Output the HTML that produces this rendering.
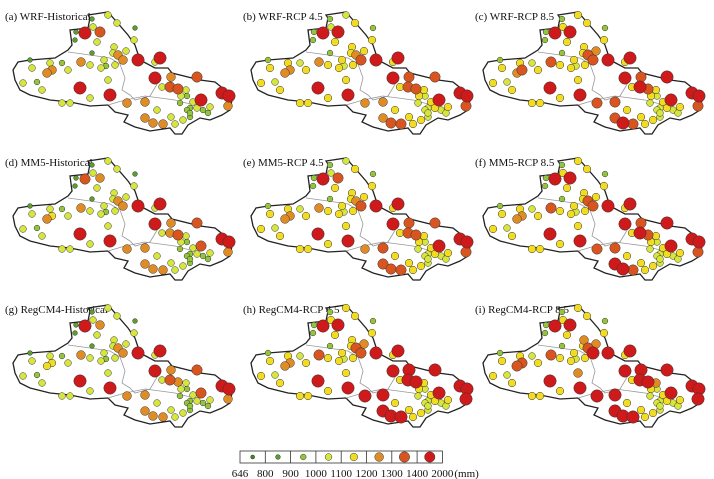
<!DOCTYPE html>
<html><head><meta charset="utf-8"><style>
body{margin:0;background:#fff;}
svg{display:block;font-family:"Liberation Serif",serif;}
</style></head><body>
<svg id="fig" width="714" height="479"></svg>
<script>
const panelTitles=["(a) WRF-Historical","(b) WRF-RCP 4.5","(c) WRF-RCP 8.5","(d) MM5-Historical","(e) MM5-RCP 4.5","(f) MM5-RCP 8.5","(g) RegCM4-Historical","(h) RegCM4-RCP 4.5","(i) RegCM4-RCP 8.5"];
const legendLabels=["646","800","900","1000","1100","1200","1300","1400","2000"];
const stationX=[92,108,117,85,100,76,93,75,97,135,134,114,126,92,113,118,123,138,160,155,30,50,62,81,90,104,106,101,52,47,32,68,115,108,155,171,197,23,37,42,80,110,162,170,178,186,181,187,193,201,222,229,228,62,70,90,127,145,157,180,190,197,203,210,187,190,208,145,153,163,171,175,183,190];
const stationY=[19,15,23,33,32,32,27,40,42,28,40,47,51,53,53,55,60,60,58,62,60,63,63,62,65,60,66,68,70,73,68,70,65,80,78,77,77,83,82,90,88,95,87,87,89,90,96,96,102,100,93,96,106,103,103,98,103,102,110,103,108,108,110,107,110,117,113,118,123,124,117,124,120,113];
const cls=[
[1,3,3,7,6,1,3,1,3,1,3,3,3,1,3,5,5,7,7,3,1,3,2,5,3,3,2,3,5,5,3,3,3,3,7,5,6,3,2,3,7,7,3,6,6,3,3,2,3,7,7,7,5,3,3,3,5,5,3,2,2,3,2,3,2,2,2,5,5,5,3,3,3,2],
[2,3,4,7,7,2,3,2,4,2,4,4,4,2,4,5,6,7,7,4,2,4,3,5,4,4,3,4,5,5,4,4,4,4,7,6,6,4,3,4,7,7,4,6,6,4,4,3,4,7,7,7,6,4,4,4,5,5,4,3,3,4,3,4,3,3,3,5,6,6,4,4,4,3],
[2,4,4,7,7,2,4,2,4,2,4,4,5,2,4,6,6,7,7,4,2,4,3,6,4,4,3,4,6,5,4,4,4,4,7,6,7,4,3,4,7,7,4,7,6,4,4,3,4,7,7,7,6,4,4,4,6,6,4,3,3,4,3,4,3,3,3,6,7,6,4,4,4,3],
[1,3,3,6,5,1,3,1,3,1,3,3,3,1,3,5,5,7,7,3,1,3,2,5,3,3,2,3,4,5,3,3,3,3,7,5,6,3,2,3,7,7,3,5,6,3,3,2,3,6,7,7,5,3,3,3,5,5,3,2,2,3,2,3,2,2,2,5,5,5,3,3,3,2],
[2,3,4,7,6,2,3,2,4,2,4,4,4,2,4,5,6,7,7,4,2,4,3,5,4,4,3,4,5,5,4,4,4,4,7,6,6,4,3,4,7,7,4,6,6,4,4,3,4,7,7,7,6,4,4,4,5,6,4,3,3,4,3,4,3,3,3,6,6,6,4,4,4,3],
[2,4,4,7,7,2,4,2,4,2,4,4,4,2,4,6,6,7,7,4,2,4,3,6,4,4,3,4,5,5,4,4,4,4,7,6,7,4,3,4,7,7,4,7,6,4,4,3,4,7,7,7,6,4,4,4,6,6,4,3,3,4,3,4,3,3,3,7,7,6,4,4,4,3],
[1,3,3,7,5,1,3,1,3,1,3,3,3,1,3,5,5,7,7,3,1,3,2,5,3,3,2,3,4,4,3,3,3,3,7,5,6,3,2,3,7,7,3,6,5,3,3,2,3,6,7,7,5,3,3,3,5,5,3,2,2,3,2,3,2,2,2,5,5,5,3,3,3,2],
[2,4,4,7,7,2,4,2,4,2,4,4,5,2,4,6,6,7,7,4,2,4,3,6,4,4,3,4,5,5,4,4,4,4,7,7,7,4,3,4,7,7,4,7,7,4,4,3,4,7,7,7,7,4,4,4,7,7,4,3,3,4,3,4,3,3,3,7,7,7,4,4,4,3],
[2,4,4,7,7,2,4,2,4,2,4,5,5,2,4,6,7,7,7,4,2,4,3,6,4,4,3,4,6,6,4,4,4,5,7,7,7,4,3,4,7,7,4,7,7,5,4,3,4,7,7,7,7,4,4,4,7,7,4,3,3,4,3,4,3,3,3,7,7,7,4,4,4,3]];
const colors=["#3e8a1e","#5b9e2b","#93c43b","#d7e63a","#f2dc22","#e08b24","#d8551f","#cf1a1b"];
const radii=[2,2.4,2.9,3.4,3.8,4.4,5.2,6.2];
const outline="88,15 108,12 128,35 135,45 140,60 155,68 168,68 172,73 200,80 215,82 225,90 232,100 230,110 222,115 210,120 200,118 188,125 182,134 175,134 170,128 150,131 135,127 124,122 128,115 115,112 108,105 90,106 70,102 50,100 30,95 20,90 15,80 13,70 18,62 30,60 55,58 68,50 72,45 70,30 88,28 90,18";
const inner1="68,52 90,55 110,58 120,64 125,78 122,90 130,95 135,100 150,96 156,86 160,78";
const inner2="108,105 125,100 145,96 160,98 175,100 190,104";
const offX=[0,238,470], offY=[0,146,293];
const NS="http://www.w3.org/2000/svg";
const svg=document.getElementById('fig');
function mk(t,a){const e=document.createElementNS(NS,t);for(const k in a)e.setAttribute(k,a[k]);return e;}
panelTitles.forEach((title,p)=>{
  const g=mk('g',{transform:`translate(${offX[p%3]},${offY[Math.floor(p/3)]})`});
  
  
  const poly=mk('polygon',{points:outline,fill:'#fff',stroke:'#222','stroke-width':1.3});
  
  
  g.appendChild(poly);
  [inner1,inner2].forEach(pts=>{const l=mk('polyline',{points:pts,fill:'none',stroke:'#999','stroke-width':0.8});
    
    
    g.appendChild(l);});
  const t=mk('text',{x:5,y:20,'font-size':11,fill:'#111'});t.textContent=title;
  
  
  g.appendChild(t);
  const order=stationX.map((_,i)=>i).sort((a,b)=>cls[p][a]-cls[p][b]);
  order.forEach(i=>{const c=cls[p][i];
    const s=mk('circle',{cx:stationX[i],cy:stationY[i],r:radii[c],fill:colors[c],stroke:'#333','stroke-width':0.5});
    
    
    g.appendChild(s);});
  svg.appendChild(g);
});
const lg=mk('g',{});


const lx=240,ly=451,cw=25.3;
const box=mk('rect',{x:lx,y:ly,width:cw*8,height:12,fill:'#fff',stroke:'#333','stroke-width':0.8});


lg.appendChild(box);
colors.forEach((c,i)=>{
  if(i>0){const d=mk('line',{x1:lx+i*cw,x2:lx+i*cw,y1:ly,y2:ly+12,stroke:'#333','stroke-width':0.8});
    
    
    lg.appendChild(d);}
  const e=mk('circle',{cx:lx+i*cw+cw/2,cy:ly+6,r:Math.min(radii[i],5.2),fill:c,stroke:'#333','stroke-width':0.5});
  
  
  lg.appendChild(e);
});
legendLabels.forEach((s,i)=>{const t=mk('text',{x:lx+i*cw,y:ly+26,'font-size':11,'text-anchor':'middle',fill:'#111'});t.textContent=s;
  
  
  lg.appendChild(t);});
const u=mk('text',{x:lx+8*cw+12,y:ly+26,'font-size':11,fill:'#111'});u.textContent='(mm)';


lg.appendChild(u);
svg.appendChild(lg);
</script>
</body></html>
